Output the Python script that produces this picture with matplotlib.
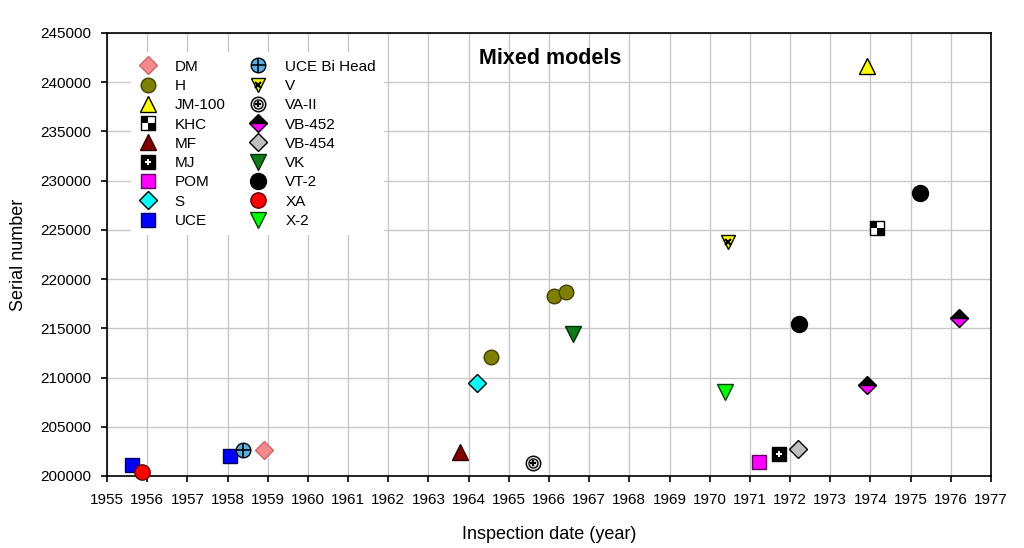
import matplotlib
matplotlib.use("Agg")
import matplotlib.pyplot as plt
from matplotlib.path import Path
from matplotlib.legend_handler import HandlerTuple

plt.rcParams['font.family'] = ['Liberation Sans', 'DejaVu Sans']

# ---------------- data ----------------
dm_x = [1958.90];               dm_y = [202640]
h_x = [1964.56, 1966.12, 1966.42]; h_y = [212090, 218290, 218660]
jm_x = [1973.91];               jm_y = [241680]
khc_x = [1974.16];              khc_y = [225220]
mf_x = [1963.79];               mf_y = [202440]
mj_x = [1971.72];               mj_y = [202270]
pom_x = [1971.23];              pom_y = [201450]
s_x = [1964.20];                s_y = [209420]
uce_x = [1955.62, 1958.06];     uce_y = [201100, 202080]
ucebi_x = [1958.38];            ucebi_y = [202640]
v_x = [1970.46];                v_y = [223770]
va2_x = [1965.60];              va2_y = [201270]
vb452_x = [1973.91, 1976.21];   vb452_y = [209240, 216020]
vb454_x = [1972.19];            vb454_y = [202710]
vk_x = [1966.59];               vk_y = [214430]
vt2_x = [1972.22, 1975.23];     vt2_y = [215410, 228780]
xa_x = [1955.88];               xa_y = [200400]
x2_x = [1970.38];               x2_y = [208500]

x_ticks = list(range(1955, 1978))
y_ticks = list(range(200000, 245001, 5000))

# ---------------- marker styles ----------------
M = Path.MOVETO; L = Path.LINETO; C = Path.CLOSEPOLY
quad_path = Path([(0, 0), (0.5, 0), (0.5, 0.5), (0, 0.5), (0, 0),
                  (-0.5, -0.5), (0, -0.5), (0, 0), (-0.5, 0), (-0.5, -0.5)],
                 [M, L, L, L, C, M, L, L, L, C])

ew = 1.0
series = [
    ("DM", dm_x, dm_y, [dict(marker='D', ms=9.5, mfc='#F4898B', mec='#C86A6A', mew=ew)]),
    ("H", h_x, h_y, [dict(marker='o', ms=10.5, mfc='#808000', mec='#404000', mew=ew)]),
    ("JM-100", jm_x, jm_y, [dict(marker='^', ms=11, mfc='#FFFF00', mec='black', mew=ew)]),
    ("KHC", khc_x, khc_y, [dict(marker='s', ms=9.5, mfc='black', mec='black', mew=0),
                           dict(marker=quad_path, ms=9.5, mfc='white', mec='none', mew=0),
                           dict(marker='s', ms=9.5, mfc='none', mec='black', mew=ew)]),
    ("MF", mf_x, mf_y, [dict(marker='^', ms=11, mfc='#800000', mec='#300000', mew=ew)]),
    ("MJ", mj_x, mj_y, [dict(marker='s', ms=9.5, mfc='black', mec='black', mew=ew),
                        dict(marker='P', ms=5, mfc='white', mec='white', mew=0)]),
    ("POM", pom_x, pom_y, [dict(marker='s', ms=10, mfc='#FF00FF', mec='#600060', mew=ew)]),
    ("S", s_x, s_y, [dict(marker='D', ms=9.5, mfc='#00FFFF', mec='black', mew=ew)]),
    ("UCE", uce_x, uce_y, [dict(marker='s', ms=10, mfc='#0000FF', mec='#000060', mew=ew)]),
    ("UCE Bi Head", ucebi_x, ucebi_y, [dict(marker='o', ms=10.5, mfc='#5AAEE6', mec='black', mew=ew),
                                       dict(marker='+', ms=10.5, mfc='none', mec='black', mew=1.2)]),
    ("V", v_x, v_y, [dict(marker='v', ms=10, mfc='#FFFF00', mec='black', mew=ew),
                     dict(marker='x', ms=4.5, mfc='none', mec='black', mew=1.6)]),
    ("VA-II", va2_x, va2_y, [dict(marker='o', ms=10.5, mfc='#D4D4D4', mec='black', mew=ew),
                             dict(marker='o', ms=6.5, mfc='none', mec='black', mew=0.9),
                             dict(marker='P', ms=4.5, mfc='black', mec='black', mew=0)]),
    ("VB-452", vb452_x, vb452_y, [dict(marker='D', ms=9.5, mfc='black', mfcalt='#FF00FF',
                                       fillstyle='top', mec='black', mew=ew)]),
    ("VB-454", vb454_x, vb454_y, [dict(marker='D', ms=9.5, mfc='#C0C0C0', mec='black', mew=ew)]),
    ("VK", vk_x, vk_y, [dict(marker='v', ms=11, mfc='#0F7A1A', mec='#003000', mew=ew)]),
    ("VT-2", vt2_x, vt2_y, [dict(marker='o', ms=11.5, mfc='black', mec='black', mew=ew)]),
    ("XA", xa_x, xa_y, [dict(marker='o', ms=11, mfc='#FF0000', mec='#600000', mew=ew)]),
    ("X-2", x2_x, x2_y, [dict(marker='v', ms=11, mfc='#00FF00', mec='#004000', mew=ew)]),
]

# ---------------- figure ----------------
fig = plt.figure(figsize=(10.24, 5.48), dpi=100)
ax = fig.add_axes([107/1024, 1 - 476/548, 884/1024, 443/548])

handles, labels = [], []
for i, (name, xs, ys, layers) in enumerate(series):
    hs = []
    for j, st in enumerate(layers):
        ln, = ax.plot(xs, ys, linestyle='none', clip_on=False,
                      zorder=3 + i * 0.05 + j * 0.01, **st)
        hs.append(ln)
    handles.append(tuple(hs))
    labels.append(name)

ax.set_xlim(1955, 1977)
ax.set_ylim(200000, 245000)
ax.set_xticks(x_ticks)
ax.set_xticklabels([str(t) for t in x_ticks])
ax.set_yticks(y_ticks)
ax.set_yticklabels([str(t) for t in y_ticks])
ax.tick_params(axis='both', direction='out', length=4.5, width=1.2,
               labelsize=11, colors='black', top=False, right=False)
ax.tick_params(axis='x', pad=7.5)
ax.tick_params(axis='y', pad=6.5)
for sp in ax.spines.values():
    sp.set_linewidth(1.2)
    sp.set_color('black')
ax.grid(True, color='#C8C8C8', linewidth=1.0)
ax.set_axisbelow(True)

ax.set_xlabel("Inspection date (year)", fontsize=13, labelpad=14)
ax.set_ylabel("Serial number", fontsize=13, labelpad=10)

ax.text(0.501, 0.942, "Mixed models", transform=ax.transAxes, ha='center', va='center',
        fontsize=15.5, fontweight='bold', zorder=6)

leg = ax.legend(handles, labels, ncol=2, loc='upper left',
                bbox_to_anchor=(0.027, 0.957), borderaxespad=0,
                handler_map={tuple: HandlerTuple(ndivide=1)},
                numpoints=1, fontsize=11, frameon=True, fancybox=False,
                edgecolor='none', facecolor='white', framealpha=1,
                handlelength=1.2, handletextpad=1.16, columnspacing=1.56,
                labelspacing=0.345, borderpad=0.5)
leg.set_zorder(5)

fig.savefig("out.png", dpi=100)
